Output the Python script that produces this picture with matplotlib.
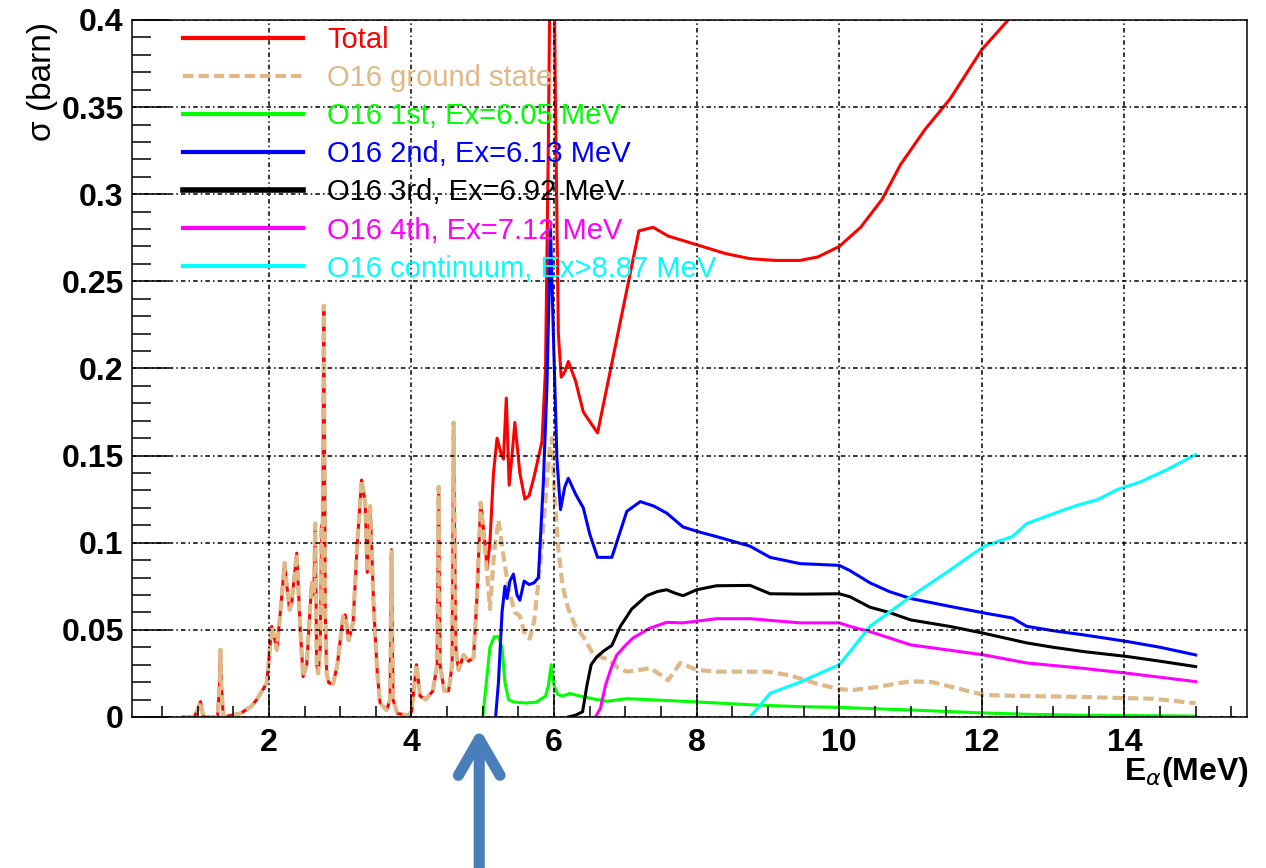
import matplotlib
matplotlib.use("Agg")
import matplotlib.pyplot as plt
from matplotlib.ticker import MultipleLocator

plt.rcParams['font.family'] = ['Liberation Sans', 'DejaVu Sans']

# ground state below 5 MeV (total is the same there)
e_low = [0.80, 0.95, 1.00, 1.04, 1.08, 1.28, 1.31, 1.32, 1.33, 1.36, 1.60, 1.75, 1.83, 1.92,
         1.97, 2.04, 2.08, 2.11, 2.16, 2.22, 2.26, 2.29, 2.32, 2.39, 2.44, 2.48, 2.53, 2.60,
         2.63, 2.65, 2.67, 2.69, 2.72, 2.74, 2.75, 2.77, 2.79, 2.81, 2.84, 2.90, 2.96, 3.04,
         3.07, 3.12, 3.18, 3.24, 3.30, 3.33, 3.35, 3.38, 3.42, 3.47, 3.52, 3.56, 3.65, 3.70,
         3.72, 3.74, 3.80, 3.95, 4.00, 4.07, 4.12, 4.20, 4.30, 4.36, 4.38, 4.40, 4.46, 4.52,
         4.57, 4.59, 4.62, 4.66, 4.73, 4.80, 4.87, 4.92, 4.97]
s_low = [0.000, 0.000, 0.004, 0.0088, 0.000, 0.000, 0.020, 0.0385, 0.020, 0.000, 0.002, 0.006,
         0.010, 0.016, 0.0195, 0.052, 0.045, 0.0385, 0.060, 0.0884, 0.072, 0.0615, 0.066, 0.094,
         0.050, 0.0232, 0.030, 0.077, 0.070, 0.111, 0.030, 0.025, 0.040, 0.110, 0.060, 0.236,
         0.060, 0.025, 0.0195, 0.019, 0.030, 0.0577, 0.0586, 0.044, 0.054, 0.100, 0.136, 0.128,
         0.123, 0.083, 0.121, 0.063, 0.025, 0.008, 0.004, 0.010, 0.096, 0.010, 0.002, 0.001,
         0.003, 0.030, 0.012, 0.010, 0.015, 0.030, 0.132, 0.030, 0.015, 0.015, 0.030, 0.169,
         0.040, 0.027, 0.0356, 0.032, 0.034, 0.070, 0.123]

# ground state above 5 MeV
e_gs = [5.00, 5.06, 5.10, 5.16, 5.22, 5.28, 5.36, 5.45, 5.52, 5.60, 5.66, 5.72, 5.80, 5.88,
        5.94, 5.97, 6.01, 6.06, 6.12, 6.20, 6.30, 6.41, 6.55, 6.76, 6.90, 7.02, 7.20, 7.35,
        7.50, 7.60, 7.70, 7.77, 8.00, 8.28, 8.60, 8.99, 9.30, 9.69, 10.0, 10.2, 10.5, 11.0,
        11.3, 11.56, 12.03, 12.5, 13.0, 13.43, 14.0, 14.4, 15.0]
s_gs = [0.110, 0.083, 0.062, 0.095, 0.113, 0.095, 0.074, 0.060, 0.058, 0.046, 0.045, 0.055,
        0.085, 0.125, 0.155, 0.160, 0.125, 0.096, 0.075, 0.062, 0.052, 0.046, 0.036, 0.033,
        0.028, 0.026, 0.027, 0.028, 0.024, 0.021, 0.027, 0.031, 0.027, 0.026, 0.026, 0.026,
        0.024, 0.019, 0.016, 0.0155, 0.017, 0.0205, 0.020, 0.0174, 0.0126, 0.0121, 0.0118,
        0.0115, 0.0108, 0.0105, 0.0079]

# total above 5 MeV
e_tot = [4.97, 5.03, 5.06, 5.10, 5.15, 5.20, 5.25, 5.29, 5.33, 5.37, 5.41, 5.45, 5.52, 5.59,
         5.65, 5.72, 5.83, 5.88, 5.92, 5.97, 6.02, 6.06, 6.10, 6.15, 6.20, 6.30, 6.41, 6.61,
         7.19, 7.39, 7.60, 8.00, 8.40, 8.75, 9.10, 9.45, 9.70, 10.0, 10.3, 10.6, 10.86, 11.2,
         11.56, 12.0, 12.37, 12.6]
s_tot = [0.123, 0.100, 0.085, 0.100, 0.140, 0.160, 0.152, 0.148, 0.183, 0.133, 0.150, 0.169,
         0.140, 0.125, 0.127, 0.138, 0.158, 0.200, 0.330, 0.550, 0.350, 0.220, 0.195, 0.198,
         0.204, 0.193, 0.175, 0.163, 0.279, 0.281, 0.276, 0.271, 0.266, 0.263, 0.262, 0.262,
         0.264, 0.270, 0.281, 0.297, 0.317, 0.337, 0.355, 0.383, 0.400, 0.415]

e_1st = [5.00, 5.05, 5.10, 5.16, 5.22, 5.27, 5.31, 5.36, 5.43, 5.60, 5.75, 5.88, 5.92, 5.96,
         6.00, 6.05, 6.12, 6.22, 6.41, 6.60, 6.74, 7.02, 7.40, 7.82, 8.30, 8.75, 9.40, 10.0,
         11.0, 12.03, 12.7, 13.43, 14.2, 15.0]
s_1st = [0.000, 0.020, 0.040, 0.046, 0.046, 0.040, 0.020, 0.010, 0.0086, 0.008, 0.0085, 0.012,
         0.018, 0.030, 0.018, 0.013, 0.012, 0.0135, 0.0115, 0.010, 0.009, 0.0105, 0.0098, 0.009,
         0.008, 0.007, 0.006, 0.0055, 0.004, 0.0023, 0.0015, 0.001, 0.0008, 0.0005]

e_2nd = [5.18, 5.22, 5.27, 5.31, 5.34, 5.38, 5.43, 5.48, 5.52, 5.58, 5.65, 5.72, 5.78, 5.85,
         5.90, 5.95, 5.99, 6.04, 6.09, 6.15, 6.20, 6.30, 6.41, 6.50, 6.61, 6.81, 7.02, 7.21,
         7.40, 7.58, 7.81, 8.05, 8.28, 8.75, 9.03, 9.45, 10.0, 10.15, 10.43, 10.7, 11.0, 11.56,
         12.03, 12.43, 12.63, 13.0, 13.43, 14.04, 14.5, 15.0]
s_2nd = [0.000, 0.020, 0.060, 0.075, 0.068, 0.078, 0.082, 0.070, 0.067, 0.078, 0.076, 0.077,
         0.080, 0.135, 0.190, 0.280, 0.220, 0.148, 0.119, 0.132, 0.137, 0.128, 0.120, 0.105,
         0.0916, 0.0916, 0.118, 0.1236, 0.121, 0.117, 0.109, 0.106, 0.1035, 0.098, 0.0916,
         0.088, 0.087, 0.084, 0.077, 0.072, 0.068, 0.0634, 0.0597, 0.0568, 0.052, 0.0495,
         0.0471, 0.0433, 0.040, 0.0356]

e_3rd = [6.20, 6.30, 6.40, 6.46, 6.52, 6.60, 6.70, 6.81, 6.93, 7.09, 7.30, 7.45, 7.58, 7.70,
         7.81, 8.00, 8.28, 8.75, 9.03, 9.50, 10.0, 10.15, 10.43, 10.7, 11.0, 11.56, 12.03,
         12.63, 13.0, 13.43, 14.04, 14.5, 15.0]
s_3rd = [0.000, 0.001, 0.003, 0.018, 0.030, 0.0345, 0.038, 0.041, 0.052, 0.062, 0.0696, 0.072,
         0.073, 0.071, 0.0696, 0.073, 0.0753, 0.0755, 0.0707, 0.0705, 0.0707, 0.069, 0.063,
         0.060, 0.0557, 0.0519, 0.048, 0.0425, 0.040, 0.0375, 0.0347, 0.032, 0.0289]

e_4th = [6.58, 6.65, 6.72, 6.80, 6.88, 7.00, 7.11, 7.34, 7.58, 7.81, 8.28, 8.75, 9.45, 10.0,
         10.15, 10.43, 11.0, 12.03, 12.63, 13.4, 14.04, 15.0]
s_4th = [0.000, 0.005, 0.018, 0.028, 0.0356, 0.041, 0.0454, 0.0509, 0.0543, 0.054, 0.0564,
         0.0564, 0.054, 0.054, 0.052, 0.049, 0.0414, 0.0356, 0.031, 0.028, 0.0251, 0.0203]

e_cont = [8.75, 9.03, 9.45, 10.0, 10.2, 10.43, 11.0, 11.56, 12.03, 12.43, 12.63, 12.96, 13.3,
          13.62, 13.9, 14.23, 14.6, 15.0]
s_cont = [0.000, 0.0136, 0.020, 0.030, 0.040, 0.052, 0.069, 0.0845, 0.098, 0.1036, 0.111,
          0.116, 0.121, 0.1247, 0.1305, 0.135, 0.142, 0.1506]

labels = ["Total", "O16 ground state", "O16 1st, Ex=6.05 MeV", "O16 2nd, Ex=6.13 MeV",
          "O16 3rd, Ex=6.92 MeV", "O16 4th, Ex=7.12 MeV", "O16 continuum, Ex>8.87 MeV"]
colors = ["#ff0000", "#deb887", "#00ff00", "#0000ff", "#000000", "#ff00ff", "#00ffff"]

arrow_E = 4.95

fig = plt.figure(figsize=(12.66, 8.68), dpi=100)
ax = fig.add_axes([0.1043, 0.174, 0.8807, 0.803])

lw = 2.2
h_tot, = ax.plot(e_low + e_tot, s_low + s_tot, color=colors[0], lw=lw)
h_gs, = ax.plot(e_low + e_gs, s_low + s_gs, color=colors[1], lw=3.0, dashes=(2.5, 1.2))
h1, = ax.plot(e_1st, s_1st, color=colors[2], lw=lw)
h2, = ax.plot(e_2nd, s_2nd, color=colors[3], lw=lw)
h3, = ax.plot(e_3rd, s_3rd, color=colors[4], lw=lw)
h4, = ax.plot(e_4th, s_4th, color=colors[5], lw=lw)
h5, = ax.plot(e_cont, s_cont, color=colors[6], lw=lw)
handles = [h_tot, h_gs, h1, h2, h3, h4, h5]

ax.set_xlim(0.08, 15.72)
ax.set_ylim(0, 0.4)
ax.xaxis.set_minor_locator(MultipleLocator(0.5))
ax.yaxis.set_minor_locator(MultipleLocator(0.01))
ax.set_xticks([2, 4, 6, 8, 10, 12, 14])
ax.set_yticks([0, 0.05, 0.1, 0.15, 0.2, 0.25, 0.3, 0.35, 0.4])
ax.set_yticklabels(["0", "0.05", "0.1", "0.15", "0.2", "0.25", "0.3", "0.35", "0.4"])

ax.tick_params(axis='both', which='both', direction='in', top=False, right=False,
               width=1.1, labelsize=23)
ax.tick_params(axis='y', which='major', length=26.5, pad=6)
ax.tick_params(axis='y', which='minor', length=13.5)
ax.tick_params(axis='x', which='major', length=16.5, pad=8)
ax.tick_params(axis='x', which='minor', length=8)
for lab in ax.get_xticklabels() + ax.get_yticklabels():
    lab.set_fontweight('bold')
for sp in ax.spines.values():
    sp.set_linewidth(1.1)

ax.grid(True, which='major', color='black', lw=1.1, linestyle=(0, (3, 2, 1, 2)))
ax.set_axisbelow(False)

leg = ax.legend(handles, labels, loc='upper left', bbox_to_anchor=(0.0457, 0.991),
                frameon=False, fontsize=21, handlelength=4.1, handletextpad=0.85,
                labelspacing=0.345, borderpad=0, borderaxespad=0)
for txt, c in zip(leg.get_texts(), colors):
    txt.set_color(c)
for h in leg.legend_handles:
    h.set_linewidth(3.0)
leg.legend_handles[4].set_linewidth(4.0)

fig.text(43 / 1266, 1 - 22 / 868, "σ (barn)", rotation=90, ha='center', va='top', fontsize=24)
fig.text(1249 / 1266, 1 - 772 / 868, r"E$_{\alpha}$(MeV)", ha='right', va='center',
         fontsize=23, fontweight='bold')

# marker arrow under the axis
ax.annotate("", xy=(arrow_E, -0.016), xytext=(arrow_E, -0.22),
            xycoords=('data', 'axes fraction'), textcoords=('data', 'axes fraction'),
            arrowprops=dict(arrowstyle='->,head_length=2.6,head_width=1.5', color='#4a7ebb',
                            lw=8, capstyle='round', joinstyle='round', shrinkA=0, shrinkB=0),
            annotation_clip=False)

fig.savefig("out.png", dpi=100)
